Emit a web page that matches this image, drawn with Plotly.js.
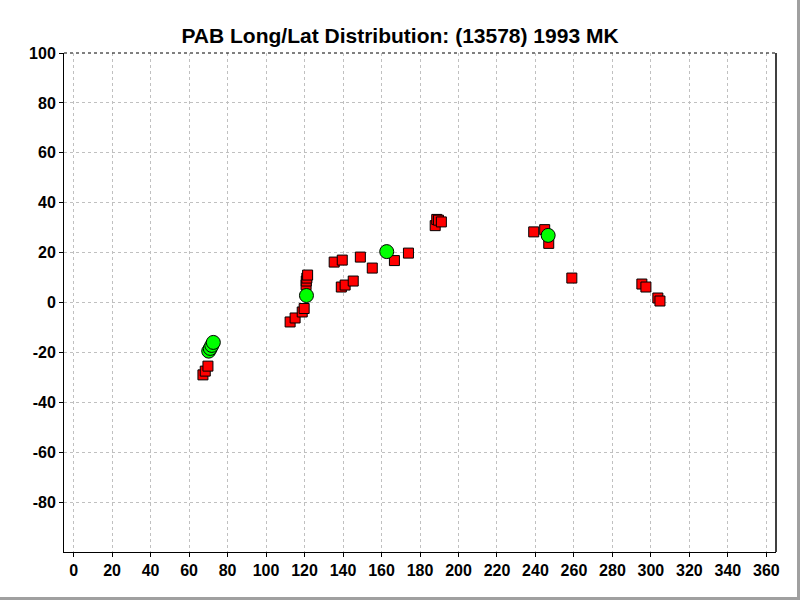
<!DOCTYPE html>
<html>
<head>
<meta charset="utf-8">
<script src="https://cdn.plot.ly/plotly-3.0.1.min.js"></script>
<style>
html,body{margin:0;padding:0;background:#fff;}
#wrap{position:relative;width:800px;height:600px;}
#chart{width:800px;height:600px;}
#br{position:absolute;left:797px;top:0;width:3px;height:600px;background:#a0a0a0;}
#bb{position:absolute;left:0;top:597px;width:800px;height:3px;background:#a0a0a0;}
</style>
</head>
<body>
<div id="wrap"><div id="chart"></div><div id="br"></div><div id="bb"></div></div>
<script>
// Observation points (red squares): longitude, latitude
const redLon = [67.2, 68.4, 69.8, 112.5, 115.1, 118.8, 119.8, 120.8, 120.9, 121.2, 121.6,
                139.1, 141.1, 145.3, 135.4, 139.6, 149.0, 155.2, 166.7, 174.0,
                187.9, 188.7, 189.6, 191.1, 239.1, 244.8, 246.9, 258.9,
                295.3, 297.4, 303.6, 304.7];
const redLat = [-29.0, -27.5, -25.5, -7.8, -6.2, -3.8, -2.4, 7.1, 8.6, 9.8, 11.0,
                6.2, 7.0, 8.6, 16.2, 17.0, 18.2, 13.8, 16.8, 19.8,
                30.8, 33.3, 33.0, 32.3, 28.3, 29.2, 23.7, 9.8,
                7.4, 6.2, 1.8, 0.6];
// Highlighted points (green circles)
const greenLon = [70.2, 71.0, 71.8, 72.6, 121.0, 162.7, 246.6];
const greenLat = [-19.5, -18.4, -17.2, -16.0, 2.8, 20.4, 26.9];

const xTicks = [0,20,40,60,80,100,120,140,160,180,200,220,240,260,280,300,320,340,360];
const yTicks = [100,80,60,40,20,0,-20,-40,-60,-80];

const tickFont = {family: '"Liberation Sans Narrow", "Arial Narrow", "Liberation Sans", Arial, sans-serif', size: 16, color: '#000', weight: 'bold'};

const traces = [
  {x: redLon, y: redLat, type: 'scatter', mode: 'markers', hoverinfo: 'skip',
   marker: {symbol: 'square', size: 10, color: '#ff0000', line: {color: '#000', width: 1}}},
  {x: greenLon, y: greenLat, type: 'scatter', mode: 'markers', hoverinfo: 'skip',
   marker: {symbol: 'circle', size: 14, color: '#00ff00', line: {color: '#000', width: 1}}}
];

const layout = {
  width: 800, height: 600,
  margin: {l: 64, r: 24, t: 53, b: 48, pad: 0},
  paper_bgcolor: '#fff', plot_bgcolor: '#fff',
  showlegend: false,
  title: {text: 'PAB Long/Lat Distribution: (13578) 1993 MK',
          font: {family: '"Liberation Sans", Arial, sans-serif', size: 21, color: '#000', weight: 'bold'},
          x: 0.5, xanchor: 'center', y: 0.94, yanchor: 'middle'},
  xaxis: {range: [-5, 365], tickvals: xTicks, ticktext: xTicks.map(String),
          showgrid: true, gridcolor: '#c0c0c0', griddash: '3px,3px', gridwidth: 1,
          zeroline: false, showline: true, linecolor: '#000', linewidth: 1,
          ticks: 'outside', ticklen: 4, tickcolor: '#000', tickfont: tickFont},
  yaxis: {range: [-100, 100], tickvals: yTicks, ticktext: yTicks.map(String),
          showgrid: true, gridcolor: '#c0c0c0', griddash: '3px,3px', gridwidth: 1,
          zeroline: false, showline: true, linecolor: '#000', linewidth: 1,
          ticks: 'outside', ticklen: 4, tickcolor: '#000', tickfont: tickFont},
  shapes: [
    {type: 'line', xref: 'paper', yref: 'paper', x0: 0, x1: 1, y0: 1, y1: 1,
     line: {color: '#000', width: 1, dash: '3px,3px'}},
    {type: 'line', xref: 'paper', yref: 'paper', x0: 1, x1: 1, y0: 0, y1: 1,
     line: {color: '#000', width: 1.5}}
  ]
};

Plotly.newPlot('chart', traces, layout, {displayModeBar: false, staticPlot: true});
</script>
</body>
</html>
